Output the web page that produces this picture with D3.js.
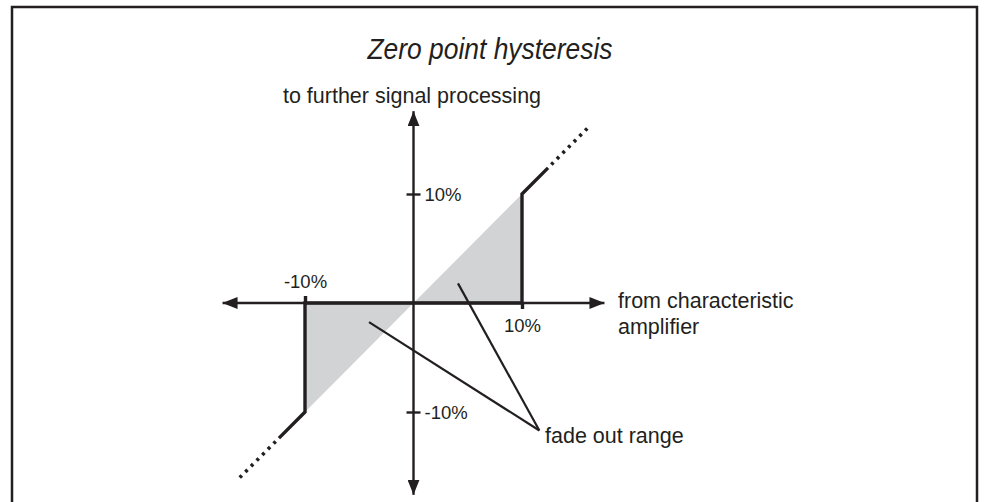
<!DOCTYPE html>
<html><head><meta charset="utf-8">
<script src="https://cdn.jsdelivr.net/npm/d3@7"></script>
<style>html,body{margin:0;padding:0;background:#fff}svg{display:block}</style>
</head><body>
<script>
// Texts
const titleText = "Zero point hysteresis";
const yAxisLabel = "to further signal processing";
const xAxisLabel = ["from characteristic", "amplifier"];
const noteText = "fade out range";
// Axis ticks (percent)
const tickValues = [-10, 10];
const tickLabels = ["-10%", "10%"];
const axisExtent = 17.6;
// Characteristic: input percent -> output percent
const curveSolid = [[-12.4, -12.4], [-10, -10], [-10, 0], [10, 0], [10, 10], [12.4, 12.4]];
const curveDottedUpper = [[12.7, 12.7], [16.3, 16.3]];
const curveDottedLower = [[-12.7, -12.7], [-16.3, -16.3]];
// Fade-out zones
const fadeUpper = [[0, 0], [10, 0], [10, 10]];
const fadeLower = [[0, 0], [-10, 0], [-10, -10]];
// Callout leaders
const leaderTargets = [[4.1, 1.8], [-4.1, -1.75]];
const leaderAnchor = [11.6, -11.7];

const W = 985, H = 502;
const ink = "#231f20";
const font = "'Liberation Sans', Arial, Helvetica, sans-serif";

const svg = d3.select("body").append("svg").attr("width", W).attr("height", H);

const x = d3.scaleLinear().domain([-10, 10]).range([305, 522]);
const y = d3.scaleLinear().domain([-10, 10]).range([412, 194]);

// frame
svg.append("rect").attr("x", 12).attr("y", 7).attr("width", 965).attr("height", 540)
  .attr("fill", "none").attr("stroke", ink).attr("stroke-width", 2.5);

// title
svg.append("text").attr("x", 490).attr("y", 59).attr("text-anchor", "middle")
  .attr("font-family", font).attr("font-style", "italic").attr("font-size", 30)
  .attr("textLength", 245).attr("lengthAdjust", "spacingAndGlyphs")
  .attr("fill", ink).text(titleText);

// arrow marker
const defs = svg.append("defs");
defs.append("marker").attr("id", "arrow").attr("markerUnits", "userSpaceOnUse")
  .attr("viewBox", "0 0 15 12").attr("refX", 15).attr("refY", 6)
  .attr("markerWidth", 15).attr("markerHeight", 12).attr("orient", "auto")
  .append("path").attr("d", "M0,0L15,6L0,12Z").attr("fill", ink);

// fade-out zones
const poly = d3.line().x(d => x(d[0])).y(d => y(d[1]));
svg.selectAll("path.fade").data([fadeUpper, fadeLower]).join("path")
  .attr("class", "fade").attr("d", d => poly(d) + "Z").attr("fill", "#d1d3d4");

// axes with arrow heads on both ends
const g = svg.append("g").attr("stroke", ink).attr("stroke-width", 2.4).attr("fill", "none");
g.append("line").attr("x1", x(0)).attr("y1", y(0)).attr("x2", x(axisExtent)).attr("y2", y(0)).attr("marker-end", "url(#arrow)");
g.append("line").attr("x1", x(0)).attr("y1", y(0)).attr("x2", x(-axisExtent)).attr("y2", y(0)).attr("marker-end", "url(#arrow)");
g.append("line").attr("x1", x(0)).attr("y1", y(0)).attr("x2", x(0)).attr("y2", y(axisExtent)).attr("marker-end", "url(#arrow)");
g.append("line").attr("x1", x(0)).attr("y1", y(0)).attr("x2", x(0)).attr("y2", y(-axisExtent)).attr("marker-end", "url(#arrow)");

// y axis ticks crossing the axis
const yAxis = d3.axisRight(y).tickValues(tickValues).tickSize(14).tickPadding(3)
  .tickFormat((d, i) => tickLabels[i]);
const yg = svg.append("g").attr("transform", `translate(${x(0) - 7},0)`).call(yAxis);
yg.select(".domain").remove();
yg.selectAll(".tick line").attr("stroke", ink).attr("stroke-width", 2.4);
yg.selectAll(".tick text").attr("font-family", font).attr("font-size", 18.5).attr("fill", ink)
  .attr("x", 18).attr("dy", "0.35em");

// x axis ticks: -10% above the axis, 10% below
const xTop = d3.axisTop(x).tickValues([tickValues[0]]).tickSize(7).tickPadding(8)
  .tickFormat(() => tickLabels[0]);
const xgt = svg.append("g").attr("transform", `translate(0,${y(0)})`).call(xTop);
const xBottom = d3.axisBottom(x).tickValues([tickValues[1]]).tickSize(6).tickPadding(10)
  .tickFormat(() => tickLabels[1]);
const xgb = svg.append("g").attr("transform", `translate(0,${y(0)})`).call(xBottom);
[xgt, xgb].forEach(a => {
  a.select(".domain").remove();
  a.selectAll(".tick line").attr("stroke", ink).attr("stroke-width", 3.4);
  a.selectAll(".tick text").attr("font-family", font).attr("font-size", 18.5).attr("fill", ink);
});

// characteristic curve
svg.append("path").attr("d", poly(curveSolid)).attr("fill", "none").attr("stroke", ink)
  .attr("stroke-width", 3.4).attr("stroke-linejoin", "miter");
svg.selectAll("path.dotted").data([curveDottedUpper, curveDottedLower]).join("path")
  .attr("class", "dotted").attr("d", poly).attr("fill", "none").attr("stroke", ink)
  .attr("stroke-width", 3.6).attr("stroke-dasharray", "3,5");

// callout leaders
svg.selectAll("line.leader").data(leaderTargets).join("line").attr("class", "leader")
  .attr("x1", d => x(d[0])).attr("y1", d => y(d[1]))
  .attr("x2", x(leaderAnchor[0])).attr("y2", y(leaderAnchor[1]))
  .attr("stroke", ink).attr("stroke-width", 2.2);

// labels
const lab = (t, lx, ly, anchor) => svg.append("text").attr("x", lx).attr("y", ly)
  .attr("text-anchor", anchor || "start")
  .attr("font-family", font).attr("font-size", 21.5).attr("fill", ink).text(t);
lab(yAxisLabel, 412, 103, "middle");
lab(xAxisLabel[0], 618, 308);
lab(xAxisLabel[1], 618, 334);
lab(noteText, 545, 443);
</script>
</body></html>
